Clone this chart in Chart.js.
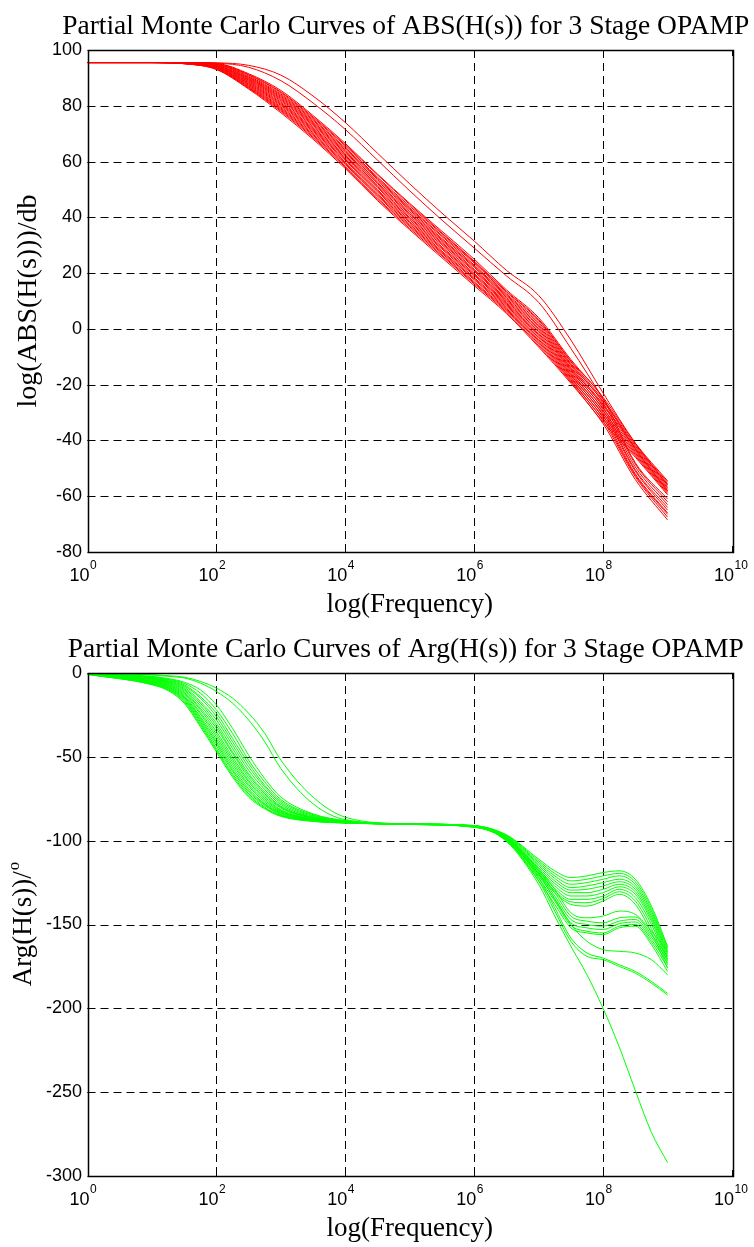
<!DOCTYPE html>
<html>
<head>
<meta charset="utf-8">
<script src="https://cdn.jsdelivr.net/npm/chart.js@4.4.0/dist/chart.umd.min.js"></script>
<style>
  html, body { margin: 0; padding: 0; background: #fff; }
  canvas { display: block; }
</style>
</head>
<body>
<canvas id="mag" width="754" height="623"></canvas>
<canvas id="arg" width="754" height="624"></canvas>
<script>
// frequency points (Hz) the curves were read at
const magFreq = [1, 10, 31.62, 100, 316.2, 1000, 3162, 1e4, 3.162e4, 1e5, 3.162e5, 1e6,
                 3.162e6, 1e7, 3.162e7, 1e8, 3.162e8, 1e9];
const argFreq = [1, 10, 17.78, 31.62, 56.23, 100, 177.8, 316.2, 562.3, 1000, 3162, 1e4, 1e5, 1e6,
                 3.162e6, 1e7, 1.778e7, 3.162e7, 5.623e7, 1e8, 1.778e8, 3.162e8, 5.623e8, 1e9];

// axis ticks
const decades = [0, 2, 4, 6, 8, 10];
const magTicks = [-80, -60, -40, -20, 0, 20, 40, 60, 80, 100];
const argTicks = [-300, -250, -200, -150, -100, -50, 0];

// |H(s)| in dB, one row per Monte Carlo run
const magCurves = [
  [95.5,95.5,95.5,95.4,94.5,91,83.5,74,63,52,41.5,31.5,21,12,-4,-23,-41,-56],
  [95.5,95.5,95.5,95.3,93.8,89,81,71.5,60.5,49.5,39,29,19,9.5,-7,-25,-43,-58],
  [95.5,95.5,95.5,95.2,91.5,85.5,76.5,66.5,55.5,45,35,25,14,4,-11,-24.5,-41,-54.5],
  [95.5,95.5,95.5,95.1,91.2,85,76,66,55.2,44.6,34.4,24.3,13.5,3.4,-11.5,-25,-48,-61],
  [95.5,95.5,95.5,95.0,91,84.7,75.6,65.6,54.4,44,34.1,24,13.2,3,-11.8,-25.4,-41.5,-55],
  [95.5,95.5,95.4,94.9,90.6,84.2,75.1,65,54,43.4,33.5,23.6,12.6,2.4,-12.4,-26,-42,-55.5],
  [95.5,95.5,95.4,94.8,90.3,83.8,74.7,64.6,53.6,43,33.1,22.9,12.2,1.8,-12.8,-26.5,-48.5,-62],
  [95.5,95.5,95.4,94.7,90,83.4,74.2,64.1,53,42.6,32.4,22.5,11.8,1.2,-13.2,-27,-42.5,-56],
  [95.5,95.5,95.4,94.5,89.7,83,73.8,63.6,52.4,42,32,22.1,11.3,0.7,-13.8,-27.5,-43,-56.5],
  [95.5,95.5,95.3,94.4,89.5,82.6,73.4,63.2,52.1,41.4,31.6,21.4,10.8,0.1,-14.2,-28,-49.5,-63],
  [95.5,95.5,95.3,94.3,89.2,82.2,73,62.7,51.5,41.1,31,21,10.4,-0.4,-14.6,-28.5,-43.5,-57],
  [95.5,95.5,95.3,94.2,88.9,81.8,72.5,62.2,51,40.5,30.6,20.6,10,-1,-15,-29,-50.5,-64],
  [95.5,95.5,95.3,94.0,88.6,81.3,72,61.8,50.6,39.9,30.1,19.9,9.5,-1.6,-15.5,-29.5,-44,-57.5],
  [95.5,95.5,95.3,93.9,88.3,80.9,71.6,61.3,49.9,39.6,29.4,19.5,9.1,-2.1,-16,-30,-51,-65],
  [95.5,95.5,95.2,93.8,88,80.5,71.2,60.8,49.5,39,29,19.1,8.7,-2.6,-16.4,-30.5,-44.5,-58],
  [95.5,95.5,95.2,93.6,87.7,80.1,70.8,60.4,49.1,38.4,28.6,18.4,8.3,-3.2,-16.8,-31,-52,-66],
  [95.5,95.5,95.2,93.5,87.4,79.6,70.3,59.8,48.4,38.1,27.9,18,7.8,-3.8,-17.3,-31.5,-45,-58.5],
  [95.5,95.5,95.2,93.4,87.1,79.2,69.8,59.4,48,37.5,27.5,17.6,7.3,-4.3,-17.7,-32,-52.5,-66.5],
  [95.5,95.5,95.1,93.3,86.8,78.8,69.4,59,47.6,37,27.1,16.9,6.9,-4.8,-18.2,-32.5,-45.5,-59],
  [95.5,95.5,95.1,93.2,86.5,78.4,68.9,58.4,46.9,36.6,26.5,16.5,6.5,-5.4,-18.6,-33,-53,-67.5],
  [95.5,95.5,95.1,93.1,86.3,78,68.5,58,46.5,36,26.1,16.1,6,-6,-19,-33.5,-46,-59.5],
  [95.5,95.5,95.1,93.0,86,77.5,68,57.5,46,35.5,25.5,15.5,5.5,-6.5,-19.5,-34,-54,-68.5]
];

// Arg(H(s)) in degrees, split at 1 MHz: argLow[k] up to 1e6, argHigh[k] above
const argLow = [
  [-0.1,-1,-1.6,-2.5,-5,-9,-15,-24,-36,-52,-74,-86,-90,-91],
  [-0.1,-1.2,-2,-3,-6,-11,-18,-28,-41,-57,-78,-87.5,-90,-91.2],
  [-0.3,-2.0,-3.3,-5.5,-10,-19,-33,-49,-63,-74,-84,-88,-90,-91],
  [-0.3,-2.3,-3.7,-6.2,-12,-22,-36,-52,-65,-75.5,-84.5,-88.2,-90,-91.1],
  [-0.4,-2.6,-4.1,-7,-14,-24,-39,-54,-67,-76.5,-85,-88.4,-90,-91.2],
  [-0.4,-2.9,-4.6,-7.7,-15,-26,-41,-56,-68,-77.5,-85.5,-88.5,-90.1,-91.3],
  [-0.4,-3.2,-5,-8.4,-17,-28,-43,-58,-69.5,-78.5,-86,-88.6,-90.1,-91.3],
  [-0.5,-3.5,-5.4,-9.2,-18,-30,-45,-60,-71,-79.5,-86.2,-88.7,-90.1,-91.4],
  [-0.5,-3.8,-5.8,-9.9,-19.5,-31.5,-47,-61,-72,-80,-86.5,-88.8,-90.1,-91.4],
  [-0.5,-4.1,-6.2,-10.6,-21,-33,-48,-62.5,-73,-80.5,-86.7,-88.9,-90.2,-91.5],
  [-0.6,-4.4,-6.7,-11.4,-22,-35,-50,-64,-74,-81.5,-87,-89,-90.2,-91.5],
  [-0.6,-4.7,-7.1,-12.1,-23.5,-36.5,-51.5,-65,-75,-82,-87.2,-89.1,-90.2,-91.6],
  [-0.6,-5,-7.5,-12.8,-24.5,-38,-53,-66.5,-76,-82.5,-87.4,-89.1,-90.2,-91.6],
  [-0.7,-5.3,-7.9,-13.6,-26,-39.5,-54.5,-67.5,-77,-83,-87.6,-89.2,-90.2,-91.7],
  [-0.7,-5.6,-8.3,-14.3,-27,-41,-56,-69,-78,-83.5,-87.8,-89.2,-90.3,-91.7],
  [-0.7,-5.9,-8.8,-15,-28,-42,-57.5,-70,-78.5,-84,-88,-89.3,-90.3,-91.8],
  [-0.7,-6.2,-9.2,-15.8,-29,-43.5,-58.5,-71,-79,-84.5,-88.1,-89.3,-90.3,-91.8],
  [-0.8,-6.5,-9.6,-16.5,-30,-45,-60,-72,-80,-85,-88.3,-89.4,-90.3,-91.9],
  [-0.8,-6.8,-10,-17.2,-31,-46,-61,-73,-80.5,-85.2,-88.4,-89.4,-90.3,-91.9],
  [-0.8,-7,-10.5,-18,-32,-47,-62,-74,-81,-85.5,-88.5,-89.5,-90.3,-92]
];
const argHigh = [
  [-97,-113,-121,-126,-125,-123,-121,-126,-142,-165],
  [-98,-117,-127,-133,-133,-131,-127.5,-132,-148,-170.5],
  [-96.5,-111,-118,-122,-121,-119,-118,-123,-139,-163],
  [-98.5,-118,-131,-145,-148,-149,-146,-145.5,-156,-169],
  [-97.5,-115,-124,-129.5,-129,-127,-124.5,-129,-145,-167.5],
  [-99,-120,-135,-150,-160,-165,-166,-167,-171,-180],
  [-98.6,-119,-130,-136.5,-137,-134.5,-130.5,-136,-152.5,-174],
  [-99.3,-121,-134.5,-149,-152,-153,-149.5,-148.5,-159,-173],
  [-96.8,-112,-119.5,-124,-123,-121,-119.5,-124.5,-140.5,-164],
  [-100.5,-126,-145,-163,-180,-200,-223,-249,-274,-292],
  [-97.8,-116,-125.5,-131,-131,-129,-126,-130.5,-146.5,-169],
  [-98,-117,-129,-143,-146,-145,-142,-144,-154,-166],
  [-98.3,-118,-128.5,-135,-135,-133,-129,-134,-150,-172],
  [-99.6,-122.5,-136,-150.5,-154,-155,-151,-150,-160.5,-175.5],
  [-97.2,-114,-122.5,-128,-127,-125,-123,-127.5,-143.5,-166.5],
  [-99.5,-122,-140,-158,-167,-170,-174,-178,-184,-191],
  [-99,-120,-131,-138,-139,-136,-132,-138,-155,-176],
  [-99,-119.5,-133,-147,-150,-151,-148,-147,-157.5,-171],
  [-100,-124,-142,-160,-169,-171,-175,-179,-185,-192],
  [-100,-124,-138,-152,-155,-156,-152,-151,-162,-178]
];

const serif = '"Liberation Serif", "Times New Roman", serif';
const sans = '"Liberation Sans", Arial, sans-serif';

// grid, box, x tick labels and axis titles drawn the way MATLAB does
const frame = {
  id: 'frame',
  beforeDatasetsDraw(chart, args, opts) {
    const { ctx, chartArea: a, scales: { x, y } } = chart;
    ctx.save();
    ctx.strokeStyle = '#000';
    ctx.lineWidth = 1;
    ctx.setLineDash([8, 5]);
    ctx.beginPath();
    decades.slice(1, -1).forEach(e => {
      const px = Math.round(x.getPixelForValue(10 ** e)) + 0.5;
      ctx.moveTo(px, a.top);
      ctx.lineTo(px, a.bottom);
    });
    opts.yTicks.slice(1, -1).forEach(v => {
      const py = Math.round(y.getPixelForValue(v)) + 0.5;
      ctx.moveTo(a.left, py);
      ctx.lineTo(a.right, py);
    });
    ctx.stroke();
    ctx.restore();
  },
  afterDraw(chart, args, opts) {
    const { ctx, chartArea: a, scales: { x, y } } = chart;
    ctx.save();
    ctx.strokeStyle = '#000';
    ctx.lineWidth = 1.5;
    ctx.setLineDash([]);
    ctx.strokeRect(Math.round(a.left) + 0.5, Math.round(a.top) + 0.5,
                   Math.round(a.right - a.left), Math.round(a.bottom - a.top));
    // inward tick marks
    ctx.lineWidth = 1;
    ctx.beginPath();
    decades.forEach(e => {
      const px = Math.round(x.getPixelForValue(10 ** e)) + 0.5;
      ctx.moveTo(px, a.bottom); ctx.lineTo(px, a.bottom - 6);
      ctx.moveTo(px, a.top); ctx.lineTo(px, a.top + 6);
    });
    opts.yTicks.forEach(v => {
      const py = Math.round(y.getPixelForValue(v)) + 0.5;
      ctx.moveTo(a.left, py); ctx.lineTo(a.left + 6, py);
      ctx.moveTo(a.right, py); ctx.lineTo(a.right - 6, py);
    });
    ctx.stroke();

    // x tick labels 10^n
    ctx.fillStyle = '#000';
    ctx.textBaseline = 'alphabetic';
    decades.forEach(e => {
      const px = x.getPixelForValue(10 ** e);
      ctx.font = '18px ' + sans;
      ctx.textAlign = 'right';
      ctx.fillText('10', px + 2, a.bottom + 28.5);
      ctx.font = '12px ' + sans;
      ctx.textAlign = 'left';
      ctx.fillText(String(e), px + 2.5, a.bottom + 16.5);
    });

    // title and x axis title
    const cx = (a.left + a.right) / 2;
    ctx.font = '27.5px ' + serif;
    ctx.textAlign = 'center';
    ctx.fillText(opts.title, cx - 4, 34);
    ctx.font = '27px ' + serif;
    ctx.fillText('log(Frequency)', cx, a.bottom + 60);

    // y axis title
    const cy = (a.top + a.bottom) / 2;
    const big = opts.yTitleSize + 'px ' + serif;
    ctx.translate(opts.yTitleX, cy);
    ctx.rotate(-Math.PI / 2);
    ctx.textBaseline = 'middle';
    ctx.font = big;
    const w1 = ctx.measureText(opts.yTitle).width;
    let w2 = 0;
    if (opts.yTitleSup) {
      ctx.font = '17px ' + serif;
      w2 = ctx.measureText(opts.yTitleSup).width;
    }
    const start = -(w1 + w2) / 2;
    ctx.textAlign = 'left';
    ctx.font = big;
    ctx.fillText(opts.yTitle, start, 0);
    if (opts.yTitleSup) {
      ctx.font = '17px ' + serif;
      ctx.fillText(opts.yTitleSup, start + w1 + 1, -9);
    }
    ctx.restore();
  }
};

function makeChart(id, datasets, yTicks, frameOpts) {
  return new Chart(document.getElementById(id), {
    type: 'line',
    data: { datasets },
    plugins: [frame],
    options: {
      responsive: false,
      animation: false,
      events: [],
      layout: { padding: { top: 50, right: 22, left: 0, bottom: 0 } },
      elements: {
        point: { radius: 0 },
        line: { borderWidth: 1, cubicInterpolationMode: 'monotone', fill: false }
      },
      plugins: {
        legend: { display: false },
        tooltip: { enabled: false },
        frame: Object.assign({ yTicks }, frameOpts)
      },
      scales: {
        x: {
          type: 'logarithmic',
          min: 1,
          max: 1e10,
          grid: { display: false, drawTicks: false },
          border: { display: false },
          ticks: { display: false },
          afterFit: s => { s.height = 71; }
        },
        y: {
          type: 'linear',
          min: yTicks[0],
          max: yTicks[yTicks.length - 1],
          grid: { display: false, drawTicks: false },
          border: { display: false },
          ticks: {
            stepSize: yTicks[1] - yTicks[0],
            padding: 5.5,
            color: '#000',
            font: { family: sans, size: 18 },
            callback: v => String(v)
          },
          afterFit: s => { s.width = 87.5; }
        }
      }
    }
  });
}

const magSets = magCurves.map(c => ({
  data: c.map((v, i) => ({ x: magFreq[i], y: v })),
  borderColor: '#ff0000'
}));

const argSets = argLow.map((lo, k) => ({
  data: lo.concat(argHigh[k]).map((v, i) => ({ x: argFreq[i], y: v })),
  borderColor: '#00ff00'
}));

makeChart('mag', magSets, magTicks, {
  title: 'Partial Monte Carlo Curves of ABS(H(s)) for 3 Stage OPAMP',
  yTitle: 'log(ABS(H(s)))/db',
  yTitleSize: 28,
  yTitleX: 28.5
});

makeChart('arg', argSets, argTicks, {
  title: 'Partial Monte Carlo Curves of Arg(H(s)) for 3 Stage OPAMP',
  yTitle: 'Arg(H(s))/',
  yTitleSup: 'o',
  yTitleSize: 27,
  yTitleX: 23.5
});
</script>
</body>
</html>
